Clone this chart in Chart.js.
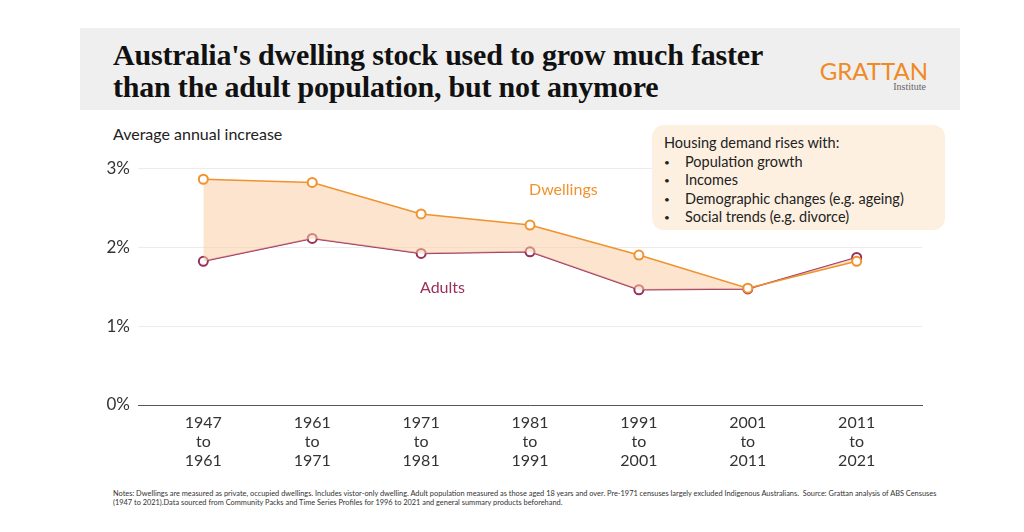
<!DOCTYPE html>
<html><head><meta charset="utf-8">
<script src="https://cdn.jsdelivr.net/npm/chart.js@4"></script>
<style>
body{margin:0;width:1024px;height:532px;background:#fff;position:relative;font-family:Lato,"Noto Sans",sans-serif;overflow:hidden}
#banner{position:absolute;left:80px;top:28px;width:880px;height:82px;background:#efefef}
#title{position:absolute;left:33px;top:11px;font-family:"Liberation Serif",serif;font-weight:bold;font-size:30px;line-height:32px;color:#111;letter-spacing:-0.2px}
#logo{position:absolute;right:32px;top:28px;color:#f08a24;font-size:24px;text-align:right}
#logo small{display:block;color:#666;font-size:10px;font-family:"Liberation Serif",serif;margin-top:-4px;margin-right:2px}
#ylab{position:absolute;left:113px;top:124px;font-size:16px;color:#222}
#box{position:absolute;left:652px;top:125px;width:272px;height:86px;padding:9px 9px 10px 12px;background:#fdf0e1;border-radius:12px;font-size:14.5px;line-height:18.5px;color:#222}
#box ul{margin:0;padding:0;list-style:none}
#box b{font-weight:normal;font-size:10px;display:inline-block;width:21px;vertical-align:1px}
#wrap{position:absolute;left:80px;top:150px;width:880px;height:320px}
.lab{position:absolute;font-size:16px}
#notes{position:absolute;left:113px;top:489px;font-size:7.4px;color:#333;line-height:9px;width:830px}
</style></head><body>
<div id="banner"><div id="title">Australia's dwelling stock used to grow much faster<br>than the adult population, but not anymore</div>
<div id="logo">GRATTAN<small>Institute</small></div></div>
<div id="ylab">Average annual increase</div>
<div id="wrap"><canvas id="c"></canvas></div>
<div id="box">Housing demand rises with:<ul>
<li><b>•</b>Population growth</li><li><b>•</b>Incomes</li><li><b>•</b>Demographic changes (e.g. ageing)</li><li><b>•</b>Social trends (e.g. divorce)</li></ul></div>
<div class="lab" style="left:529px;top:179px;color:#f0922e">Dwellings</div>
<div class="lab" style="left:420px;top:277px;color:#9b2f5a">Adults</div>
<div id="notes">Notes: Dwellings are measured as private, occupied dwellings. Includes vistor-only dwelling. Adult population measured as those aged 18 years and over. Pre-1971 censuses largely excluded Indigenous Australians.&nbsp; Source: Grattan analysis of ABS Censuses (1947 to 2021).Data sourced from Community Packs and Time Series Profiles for 1996 to 2021 and general summary products beforehand.</div>
<script>
const periods = [['1947','to','1961'],['1961','to','1971'],['1971','to','1981'],['1981','to','1991'],['1991','to','2001'],['2001','to','2011'],['2011','to','2021']];
const dwellings = [2.86, 2.82, 2.42, 2.28, 1.90, 1.48, 1.82];
const adults = [1.82, 2.11, 1.92, 1.94, 1.46, 1.47, 1.87];
const yTicks = [0, 1, 2, 3];

const pts = arr => arr.map((v, i) => ({x: i, y: v}));
const orange = '#f0922e', plum = '#9b2f5a';

new Chart(document.getElementById('c'), {
    type: 'line',
    data: {
        datasets: [{
            data: pts(dwellings),
            borderColor: orange, borderWidth: 1.5,
            backgroundColor: 'rgba(250,205,165,0.55)',
            fill: '+1',
            pointBackgroundColor: '#fff', pointBorderColor: orange, pointBorderWidth: 2, pointRadius: 4.5
        }, {
            data: pts(adults),
            borderColor: plum, borderWidth: 1.5,
            fill: false,
            pointBackgroundColor: '#fff', pointBorderColor: plum, pointBorderWidth: 2, pointRadius: 4.5
        }]
    },
    options: {
        responsive: true, maintainAspectRatio: false, animation: false,
        layout: {padding: {top: 18, right: 38, left: 0, bottom: 0}},
        plugins: {legend: {display: false}, tooltip: {enabled: false}},
        scales: {
            x: {
                type: 'linear', min: -0.6, max: 6.6,
                afterFit: s => { s.height = 65; },
                afterBuildTicks: s => { s.ticks = periods.map((p, i) => ({value: i})); },
                ticks: {callback: v => periods[v], color: '#333', font: {family: 'Lato', size: 16}, padding: 0, maxRotation: 0, autoSkip: false},
                grid: {display: false},
                border: {color: '#555', width: 1}
            },
            y: {
                min: 0, max: 3,
                afterFit: s => { s.width = 58; },
                afterBuildTicks: s => { s.ticks = yTicks.map(v => ({value: v})); },
                ticks: {callback: v => v + '%', color: '#333', font: {family: 'Lato', size: 17}, padding: 8},
                grid: {color: '#ececec', drawTicks: false},
                border: {display: false}
            }
        }
    }
});
</script>
</body></html>
